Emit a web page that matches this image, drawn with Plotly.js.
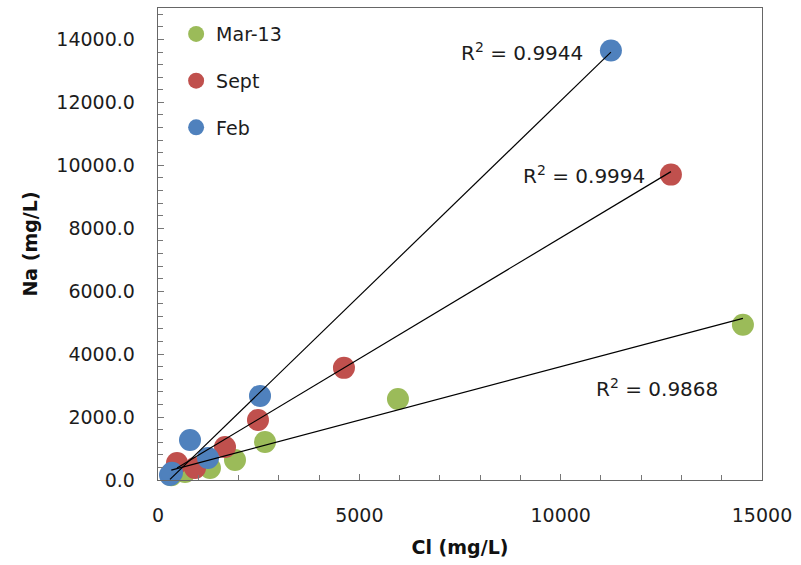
<!DOCTYPE html>
<html>
<head>
<meta charset="utf-8">
<script src="https://cdn.plot.ly/plotly-3.0.1.min.js"></script>
<style>html,body{margin:0;padding:0;background:#fff}#chart{width:801px;height:565px}</style>
</head>
<body>
<div id="chart"></div>
<script>
// Data (Cl vs Na, mg/L)
const seriesNames = ["Mar-13", "Sept", "Feb"];
const marCl = [14526, 5959, 2657, 1912, 1291, 670, 330];
const marNa = [4932, 2577, 1209, 636, 382, 255, 150];
const septCl = [12738, 4618, 2483, 1664, 919, 472];
const septNa = [9705, 3564, 1909, 1050, 382, 541];
const febCl = [11248, 2533, 795, 1242, 298, 347];
const febNa = [13651, 2673, 1273, 700, 159, 230];
// Linear trend line coefficients and R² labels
const trendSlope = [0.34, 0.768, 1.24];
const trendIntercept = [200, 17, -350];
const r2Labels = ["0.9868", "0.9994", "0.9944"];
const r2LabelX = [12390, 10578, 9038];
const r2LabelY = [2927, 9705, 13587];

const colors = ["#9BBB59", "#C0504D", "#4F81BD"];
const xs = [marCl, septCl, febCl];
const ys = [marNa, septNa, febNa];

const traces = [];
for (let i = 0; i < 3; i++) {
  traces.push({
    x: xs[i], y: ys[i], type: "scatter", mode: "markers", name: seriesNames[i],
    legendgroup: "g" + i, cliponaxis: false,
    marker: {color: colors[i], size: 22, line: {width: 0}}
  });
}
for (let i = 0; i < 3; i++) {
  const xmin = Math.min(...xs[i]), xmax = Math.max(...xs[i]);
  traces.push({
    x: [xmin, xmax],
    y: [trendIntercept[i] + trendSlope[i] * xmin, trendIntercept[i] + trendSlope[i] * xmax],
    type: "scatter", mode: "lines", showlegend: false, hoverinfo: "skip", cliponaxis: false,
    line: {color: "#000", width: 1.2}
  });
}

const fam = "DejaVu Sans, Verdana, sans-serif";
const txt = "#1c1c1c";
const annotations = r2Labels.map((t, i) => ({
  x: r2LabelX[i], y: r2LabelY[i], xref: "x", yref: "y",
  text: "R<sup>2</sup> = " + t, showarrow: false,
  font: {family: fam, size: 20, color: txt}
}));

const layout = {
  width: 801, height: 565,
  margin: {l: 158, r: 39, t: 8, b: 85},
  paper_bgcolor: "#fff", plot_bgcolor: "#fff",
  font: {family: fam, size: 19, color: txt},
  showlegend: true,
  legend: {x: 0.03, y: 0.985, xanchor: "left", yanchor: "top", bgcolor: "rgba(0,0,0,0)",
           tracegroupgap: 19, itemsizing: "trace", itemwidth: 30,
           font: {family: fam, size: 19, color: txt}},
  xaxis: {
    range: [0, 15000], dtick: 5000, tick0: 0, tickformat: "d",
    ticks: "inside", ticklen: 6, tickcolor: "#777",
    minor: {dtick: 1000, ticks: "inside", ticklen: 5, tickcolor: "#777"},
    showgrid: false, zeroline: false, showline: true, linecolor: "#666", linewidth: 1.3, mirror: true,
    ticklabelstandoff: 18,
    tickfont: {family: fam, size: 19, color: txt},
    title: {text: "<b>Cl (mg/L)</b>", font: {family: fam, size: 19, color: "#111"}, standoff: 15}
  },
  yaxis: {
    range: [0, 15000], dtick: 2000, tick0: 0, tickformat: ".1f",
    ticks: "inside", ticklen: 6, tickcolor: "#777",
    minor: {dtick: 400, ticks: "inside", ticklen: 5, tickcolor: "#777"},
    showgrid: false, zeroline: false, showline: true, linecolor: "#666", linewidth: 1.3, mirror: true,
    ticklabelstandoff: 18,
    tickfont: {family: fam, size: 19, color: txt},
    title: {text: "<b>Na (mg/L)</b>", font: {family: fam, size: 19, color: "#111"}, standoff: 13}
  },
  annotations: annotations
};

Plotly.newPlot("chart", traces, layout, {displayModeBar: false, staticPlot: true});
</script>
</body>
</html>
